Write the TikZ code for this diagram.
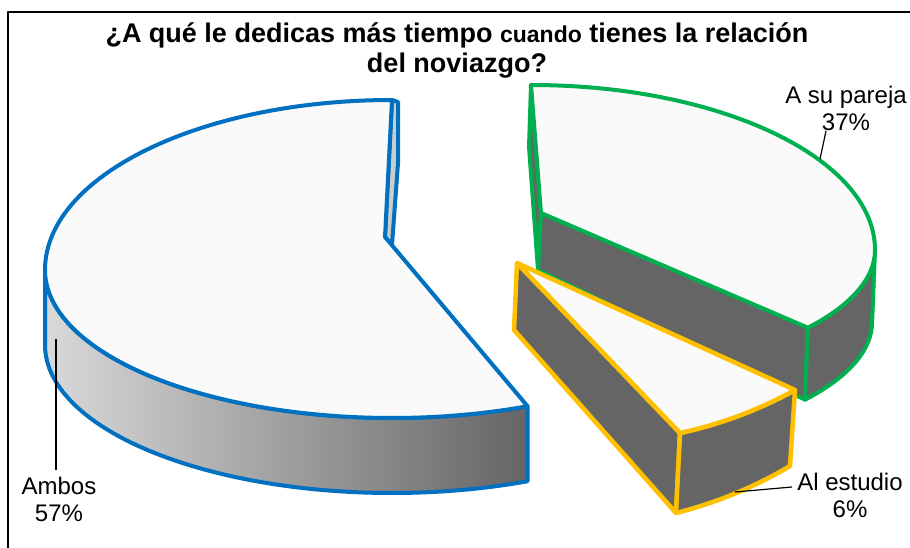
\documentclass[tikz,border=0pt]{standalone}
\usepackage{fontspec}
\setmainfont{Liberation Sans}
\definecolor{bleu}{HTML}{0070C0}
\definecolor{vert}{HTML}{00B050}
\definecolor{jaune}{HTML}{FFC000}
\definecolor{dessus}{HTML}{FAFAFA}
\definecolor{flanc}{HTML}{656565}

\begin{document}
\begin{tikzpicture}[x=1pt, y=1pt, line join=round,
    ambos/.style={draw=bleu, line width=4},
    pareja/.style={draw=vert, line width=4},
    estudio/.style={draw=jaune, line width=4.5},
    etiq/.style={align=center, font=\fontsize{24}{27}\selectfont, inner sep=0pt}]

\useasboundingbox (0,0) rectangle (910,547);

% Cadre
\draw[line width=2] (8,-20) rectangle (930,535);

% Titre
\node[font=\bfseries\fontsize{27}{30}\selectfont, align=center] (titre) at (457,497)
    {¿A qué le dedicas más tiempo {\fontsize{23}{30}\selectfont cuando} tienes la relación\\del noviazgo?};

% Tranche : A su pareja
\coordinate (pT) at (531,462);
\coordinate (pTb) at (529,400);
\coordinate (pO) at (541,334);
\coordinate (pOb) at (538,277);
\coordinate (pC) at (807.9,219.3);
\coordinate (pCb) at (805,147.3);
\filldraw[pareja, fill=flanc] (pT) -- (pO) -- (pOb) -- (pTb) -- cycle;
\filldraw[pareja, fill=flanc] (pO) -- (pC) -- (pCb) -- (pOb) -- cycle;
\filldraw[pareja, fill=flanc] (875,297) arc[start angle=0, end angle=-36.4, x radius=344, y radius=131]
    -- (pCb) arc[start angle=-36.4, end angle=0, x radius=344, y radius=131] -- cycle;
\filldraw[pareja, fill=dessus] (pO) -- (pT) arc[start angle=90, end angle=0, x radius=344, y radius=165]
    arc[start angle=0, end angle=-36.4, x radius=344, y radius=131] -- cycle;

% Tranche : Al estudio
\coordinate (eA) at (517,284);
\coordinate (eAb) at (514,217);
\coordinate (eE1) at (680,114);
\coordinate (eE1b) at (676,34);
\coordinate (eE2) at (795,157);
\coordinate (eE2b) at (790,81);
\filldraw[estudio, fill=flanc] (eA) -- (eE1) -- (eE1b) -- (eAb) -- cycle;
\filldraw[estudio, fill=flanc] (eE1) .. controls (720.4,122.7) and (758.8,137.1) .. (eE2)
    -- (eE2b) .. controls (754.3,59.8) and (716.3,44.2) .. (eE1b) -- cycle;
\filldraw[estudio, fill=dessus] (eA) -- (eE2) .. controls (758.8,137.1) and (720.4,122.7) .. (eE1) -- cycle;

% Tranche : Ambos
\coordinate (aT) at (392,447);
\coordinate (aO) at (385,310);
\coordinate (aL) at (45,277);
\draw[ambos, left color=black!15, right color=flanc] (aL)
    arc[start angle=180, end angle=293, x radius=347, y radius=148] -- ++(0,-75)
    arc[start angle=293, end angle=180, x radius=347, y radius=148] -- cycle;
\filldraw[ambos, fill=black!20] (aT) -- (398,445) -- (398,384) -- (392,302) -- (aO) -- cycle;
\filldraw[ambos, fill=dessus] (aO) -- (aT) arc[start angle=90, end angle=180, x radius=347, y radius=170]
    arc[start angle=180, end angle=293, x radius=347, y radius=148] -- cycle;

% Etiquettes
\node[etiq] (ambos) at (59,48) {Ambos\\57\%};
\node[etiq] (pareja) at (846,438.5) {A su pareja\\37\%};
\node[etiq] (estudio) at (850,51.5) {Al estudio\\6\%};

% Traits de rappel
\coordinate (ambos-tip) at (56,208);
\coordinate (ambos-end) at (56,77);
\coordinate (pareja-tip) at (820,388);
\coordinate (pareja-end) at (826,416);
\coordinate (estudio-tip) at (735,55);
\coordinate (estudio-end) at (792,60);
\draw[line width=1.2] (ambos-tip) -- (ambos-end);
\draw[line width=1.2] (pareja-tip) -- (pareja-end);
\draw[line width=1.2] (estudio-tip) -- (estudio-end);

\end{tikzpicture}
\end{document}
